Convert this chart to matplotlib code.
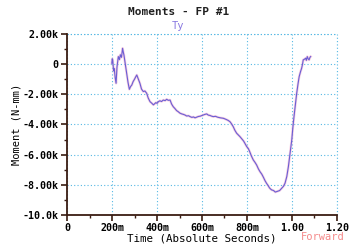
import matplotlib
matplotlib.use("Agg")
import matplotlib.pyplot as plt
from matplotlib.ticker import MultipleLocator

# Ty moment trace (seconds, N-mm)
time_s = [0.199, 0.201, 0.203, 0.207, 0.210, 0.214, 0.218, 0.222, 0.228, 0.233,
          0.237, 0.242, 0.247, 0.250, 0.253, 0.259, 0.265, 0.271, 0.277, 0.282,
          0.288, 0.294, 0.300, 0.305, 0.310, 0.317, 0.324, 0.331, 0.339, 0.346,
          0.354, 0.361, 0.369, 0.376, 0.384, 0.390, 0.395, 0.400, 0.406, 0.413,
          0.420, 0.428, 0.436, 0.443, 0.450, 0.458, 0.465, 0.472, 0.480, 0.487,
          0.494, 0.502, 0.510, 0.517, 0.524, 0.532, 0.540, 0.547, 0.555, 0.562,
          0.569, 0.576, 0.584, 0.592, 0.599, 0.606, 0.613, 0.621, 0.628, 0.635,
          0.643, 0.650, 0.660, 0.670, 0.682, 0.695, 0.705, 0.715, 0.724, 0.731,
          0.739, 0.746, 0.754, 0.762, 0.769, 0.777, 0.785, 0.792, 0.799, 0.806,
          0.812, 0.820, 0.828, 0.836, 0.843, 0.851, 0.858, 0.866, 0.873, 0.880,
          0.887, 0.894, 0.900, 0.905, 0.910, 0.915, 0.920, 0.926, 0.932, 0.938,
          0.945, 0.950, 0.954, 0.962, 0.969, 0.977, 0.984, 0.991, 0.999, 1.004,
          1.009, 1.015, 1.021, 1.027, 1.032, 1.038, 1.043, 1.047, 1.050, 1.055,
          1.061, 1.064, 1.068, 1.072, 1.076, 1.080, 1.083]
moment = [57, 350, 276, -450, -300, -900, -1270, -200, 500, 300,
          620, 450, 1050, 800, 600, 0, -600, -1200, -1670, -1500,
          -1380, -1150, -1000, -850, -720, -1000, -1270, -1650, -1820, -1780,
          -1930, -2250, -2490, -2580, -2700, -2620, -2550, -2600, -2490, -2430,
          -2480, -2380, -2420, -2330, -2400, -2380, -2650, -2820, -2950, -3080,
          -3150, -3250, -3300, -3330, -3370, -3440, -3420, -3480, -3530, -3500,
          -3560, -3520, -3470, -3450, -3410, -3370, -3330, -3300, -3380, -3400,
          -3450, -3480, -3460, -3520, -3560, -3590, -3650, -3720, -3810, -3950,
          -4150, -4380, -4580, -4700, -4810, -4950, -5100, -5280, -5470, -5600,
          -5800, -6100, -6350, -6520, -6690, -6950, -7130, -7300, -7500, -7720,
          -7900, -8050, -8200, -8280, -8340, -8360, -8400, -8480, -8450, -8420,
          -8380, -8300, -8230, -8100, -7900, -7450, -6800, -6000, -5030, -4200,
          -3480, -2700, -1930, -1300, -830, -500, -270, 0, 280, 320,
          390, 250, 500, 350, 280, 450, 500]

xtick_vals = [0, 0.2, 0.4, 0.6, 0.8, 1.0, 1.2]
xtick_labels = ["0", "200m", "400m", "600m", "800m", "1.00", "1.20"]
ytick_vals = [2000, 0, -2000, -4000, -6000, -8000, -10000]
ytick_labels = ["2.00k", "0", "-2.00k", "-4.00k", "-6.00k", "-8.00k", "-10.0k"]

mono = "DejaVu Sans Mono"
edge = "#3a1c12"
grid_col = "#55b8e4"

fig = plt.figure(figsize=(3.51, 2.46), dpi=100)
ax = fig.add_axes([0.191, 0.126, 0.769, 0.736])

# soft pink halo under the trace, then the trace itself
ax.plot(time_s, moment, color="#f0a8cc", lw=1.8, alpha=0.55)
ax.plot(time_s, moment, color="#6a5ed4", lw=0.8)

ax.set_xlim(0, 1.2)
ax.set_ylim(-10000, 2000)
ax.set_xticks(xtick_vals)
ax.set_xticklabels(xtick_labels)
ax.set_yticks(ytick_vals)
ax.set_yticklabels(ytick_labels)
ax.xaxis.set_minor_locator(MultipleLocator(0.1))
ax.yaxis.set_minor_locator(MultipleLocator(1000))

for lab in ax.get_xticklabels() + ax.get_yticklabels():
    lab.set_fontfamily(mono)
    lab.set_fontsize(7.2)
    lab.set_fontweight("bold")

ax.tick_params(which="major", direction="out", length=4, width=1.2, color=edge, pad=2)
ax.tick_params(which="minor", direction="out", length=2.5, width=1.0, color=edge)

ax.grid(True, which="major", color=grid_col, linestyle=(0, (1.0, 2.0)), lw=0.8)
ax.set_axisbelow(True)
for side in ["top", "right"]:
    ax.spines[side].set_visible(False)
for side in ["left", "bottom"]:
    ax.spines[side].set_color(edge)
    ax.spines[side].set_linewidth(1.3)

# top edge and right edge dotted grid lines
ax.axhline(2000, color=grid_col, linestyle=(0, (1.0, 2.0)), lw=0.8, clip_on=False)
ax.axvline(1.2, color=grid_col, linestyle=(0, (1.0, 2.0)), lw=0.8, clip_on=False)

fig.text(0.508, 0.95, "Moments - FP #1", ha="center", va="center",
         fontfamily=mono, fontsize=8, fontweight="bold", color="#202020")
fig.text(0.508, 0.893, "Ty", ha="center", va="center",
         fontfamily=mono, fontsize=7.5, color="#8878e0")
ax.set_xlabel("Time (Absolute Seconds)", fontfamily=mono, fontsize=7.8,
              labelpad=0)
ax.set_ylabel("Moment (N-mm)", fontfamily=mono, fontsize=7.5, labelpad=1)
fig.text(0.92, 0.035, "Forward", ha="center", va="center",
         fontfamily=mono, fontsize=7.5, color="#f58a8a")

fig.savefig("out.png", dpi=100, facecolor="white")
